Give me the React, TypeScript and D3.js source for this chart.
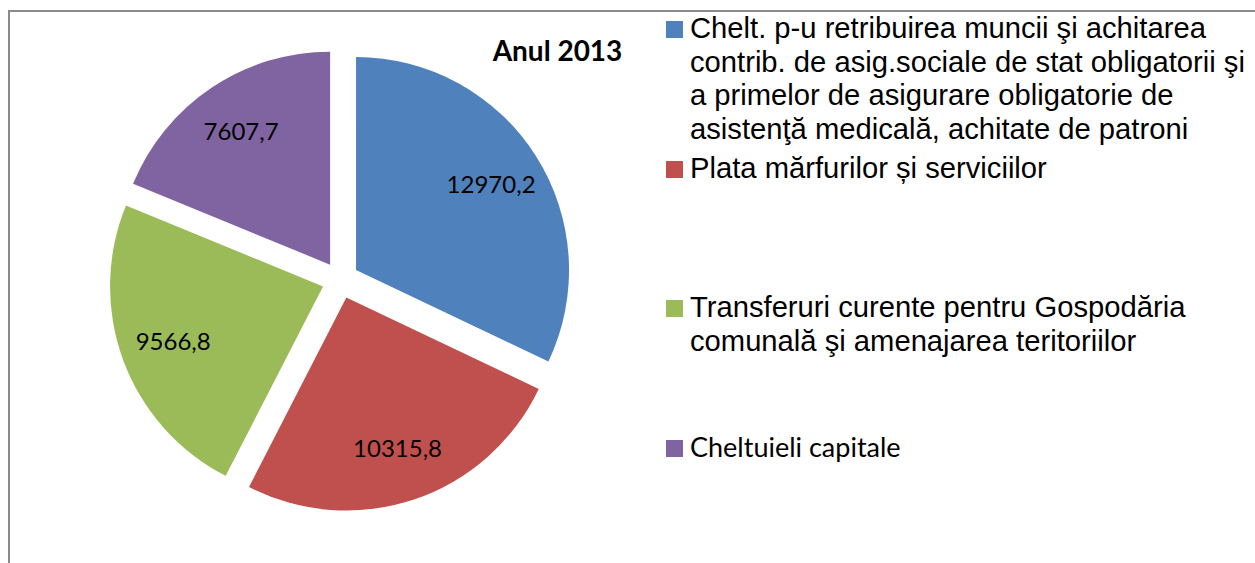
import React from "react";
import * as d3 from "d3";

const categories = [
  "Chelt. p-u retribuirea muncii şi achitarea contrib. de asig.sociale de stat obligatorii şi a primelor de asigurare obligatorie de asistenţă medicală, achitate de patroni",
  "Plata mărfurilor și serviciilor",
  "Transferuri curente pentru Gospodăria comunală şi amenajarea teritoriilor",
  "Cheltuieli capitale",
];
const values = [12970.2, 10315.8, 9566.8, 7607.7];
const valueLabels = ["12970,2", "10315,8", "9566,8", "7607,7"];
const colors = ["#4F81BD", "#C0504D", "#9BBB59", "#8064A2"];
const title = "Anul 2013";

const legendLines: string[][] = [
  [
    "Chelt. p-u retribuirea muncii şi achitarea",
    "contrib. de asig.sociale de stat obligatorii şi",
    "a primelor de asigurare obligatorie de",
    "asistenţă medicală, achitate de patroni",
  ],
  ["Plata mărfurilor și serviciilor"],
  ["Transferuri curente pentru Gospodăria", "comunală şi amenajarea teritoriilor"],
  ["Cheltuieli capitale"],
];
const legendFonts = [
  "'Liberation Sans', Arial, sans-serif",
  "'Liberation Sans', Arial, sans-serif",
  "'Liberation Sans', Arial, sans-serif",
  "Lato, 'Open Sans', sans-serif",
];
const legendBaselines = [38, 178, 317, 457];

export default function App() {
  const W = 1255;
  const H = 563;
  const cx = 340.4;
  const cy = 280;
  const r = 213;
  const explode = 18.5;
  const labelR = 0.75 * r;

  const pie = d3
    .pie<number>()
    .sort(null)
    .value((d) => d)
    .startAngle(0)
    .endAngle(2 * Math.PI);
  const arcs = pie(values);
  const arc = d3.arc<d3.PieArcDatum<number>>().innerRadius(0).outerRadius(r);
  const labelArc = d3
    .arc<d3.PieArcDatum<number>>()
    .innerRadius(labelR)
    .outerRadius(labelR);

  return (
    <svg
      width={W}
      height={H}
      style={{ position: "absolute", left: 0, top: 0, background: "#fff" }}
    >
      <rect x={0} y={0} width={W} height={H} fill="#fff" />
      <path d={`M9,${H} L9,11 L${W},11`} fill="none" stroke="#8a8a8a" strokeWidth={2} />
      <g transform={`translate(${cx},${cy})`}>
        {arcs.map((a, i) => {
          const mid = (a.startAngle + a.endAngle) / 2;
          const dx = Math.sin(mid) * explode;
          const dy = -Math.cos(mid) * explode;
          const [lx, ly] = labelArc.centroid(a);
          return (
            <g key={i} transform={`translate(${dx},${dy})`}>
              <path d={arc(a) || ""} fill={colors[i]} />
              <text
                x={lx}
                y={ly}
                dy="0.35em"
                textAnchor="middle"
                fontFamily="Lato, 'Open Sans', sans-serif"
                fontSize={24}
                fill="#000"
              >
                {valueLabels[i]}
              </text>
            </g>
          );
        })}
      </g>
      <text
        x={557.5}
        y={61}
        textAnchor="middle"
        fontFamily="Lato, 'Open Sans', sans-serif"
        fontWeight="bold"
        fontSize={28}
        fill="#000"
      >
        {title}
      </text>
      {legendLines.map((lines, i) => (
        <g key={i}>
          <rect
            x={666}
            y={legendBaselines[i] - 17}
            width={17}
            height={17}
            fill={colors[i]}
          />
          {lines.map((ln, j) => (
            <text
              key={j}
              x={690}
              y={legendBaselines[i] + j * 33.7}
              fontFamily={legendFonts[i]}
              fontSize={i === 3 ? 27 : 29.2}
              fill="#000"
            >
              {ln}
            </text>
          ))}
        </g>
      ))}
    </svg>
  );
}
